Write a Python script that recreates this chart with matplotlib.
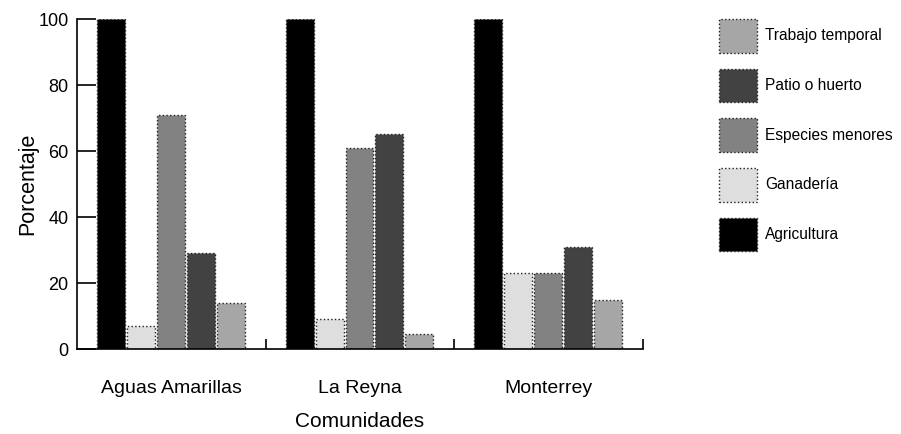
import matplotlib.pyplot as plt
import numpy as np

# datos
comunidades = ["Aguas Amarillas", "La Reyna", "Monterrey"]
series = ["Agricultura", "Ganadería", "Especies menores", "Patio o huerto", "Trabajo temporal"]
agricultura = [100, 100, 100]
ganaderia = [7, 9, 23]
especies_menores = [71, 61, 23]
patio_huerto = [29, 65, 31]
trabajo_temporal = [14, 4.5, 15]

valores = [agricultura, ganaderia, especies_menores, patio_huerto, trabajo_temporal]
colores = ["#000000", "#dedede", "#828282", "#424242", "#a6a6a6"]

plt.rcParams["font.family"] = ["Liberation Sans", "DejaVu Sans"]

fig = plt.figure(figsize=(9.01, 4.34), dpi=100)
ax = fig.add_axes([77 / 901, 1 - 349 / 434, (643 - 77) / 901, (349 - 19) / 434])

x = np.arange(len(comunidades))
inicio = 0.106
paso = 0.1587
ancho = 0.148

handles = []
for i, (nombre, vals, col) in enumerate(zip(series, valores, colores)):
    h = ax.bar(x + inicio + i * paso, vals, width=ancho, align="edge",
               color=col, edgecolor="#202020", linewidth=1, linestyle=":",
               label=nombre)
    handles.append(h)

ax.set_xlim(0, 3)
ax.set_ylim(0, 100)
ax.spines["top"].set_visible(False)
ax.spines["right"].set_visible(False)
ax.spines["left"].set_linewidth(1.2)
ax.spines["bottom"].set_linewidth(1.2)

ax.set_yticks([0, 20, 40, 60, 80, 100])
ax.tick_params(axis="y", direction="in", length=14, width=1.2, pad=6, labelsize=13)
ax.set_xticks(x + 0.5)
ax.set_xticklabels(comunidades)
ax.tick_params(axis="x", which="major", length=0, pad=22, labelsize=14)
ax.set_xticks([1, 2, 3], minor=True)
ax.tick_params(axis="x", which="minor", direction="in", length=7, width=1.2)

ax.set_xlabel("Comunidades", fontsize=15, labelpad=11)
ax.set_ylabel("Porcentaje", fontsize=15.5, labelpad=0)

# leyenda en orden inverso
fs = 11.2
fig.legend(handles[::-1], series[::-1], loc="upper left",
           bbox_to_anchor=(719 / 901, 1 - 19 / 434), frameon=False,
           fontsize=fs, borderpad=0, borderaxespad=0,
           handlelength=2.43, handleheight=2.95, labelspacing=1.03,
           handletextpad=0.55)

plt.savefig("out.png", dpi=100)
